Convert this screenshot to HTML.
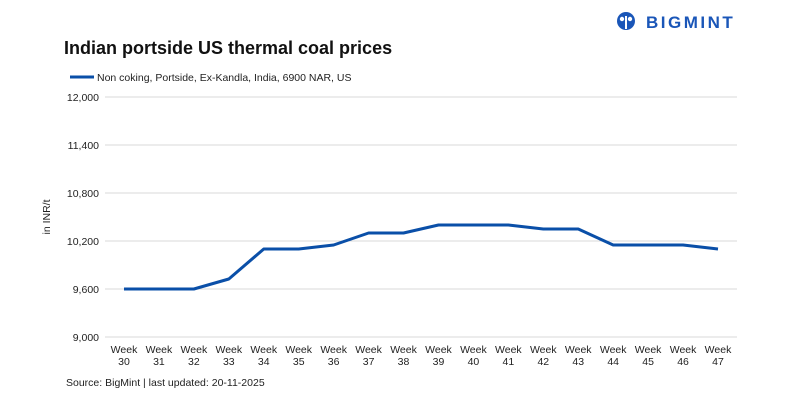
<!DOCTYPE html>
<html><head><meta charset="utf-8"><style>
body{margin:0;width:800px;height:400px;background:#fff;font-family:"Liberation Sans",sans-serif;overflow:hidden}
svg text{font-family:"Liberation Sans",sans-serif}
</style></head><body>
<svg id="chart" width="800" height="400">
<g>
<circle cx="626" cy="21" r="9" fill="#1a56b8"/>
<circle cx="622" cy="19" r="2.2" fill="#fff"/><circle cx="630" cy="19" r="2.2" fill="#fff"/>
<rect x="625" y="16" width="2" height="13" fill="#fff"/>
<text x="646" y="28" font-size="17" font-weight="bold" fill="#1a56b8" letter-spacing="2.5">BIGMINT</text>
</g>
<text x="64" y="54" font-size="18" font-weight="bold" fill="#111">Indian portside US thermal coal prices</text>
<g>
<line x1="70" y1="77" x2="94" y2="77" stroke="#0a4fa8" stroke-width="3"/>
<text x="97" y="81" font-size="10.5" fill="#222">Non coking, Portside, Ex-Kandla, India, 6900 NAR, US</text>
</g>
<text transform="translate(50,217) rotate(-90)" font-size="10.5" fill="#222" text-anchor="middle">in INR/t</text>
<g id="grid"></g><g id="yt"></g><g id="xt"></g><g id="series"></g>
<text x="66" y="386" font-size="10.5" fill="#222">Source: BigMint | last updated: 20-11-2025</text>
</svg>
<script>
const categories=[30,31,32,33,34,35,36,37,38,39,40,41,42,43,44,45,46,47];
const values=[9600,9600,9600,9725,10100,10100,10150,10300,10300,10400,10400,10400,10350,10350,10150,10150,10150,10100];
const yTicks=[9000,9600,10200,10800,11400,12000];
const yTickLabels=["9,000","9,600","10,200","10,800","11,400","12,000"];
const NS="http://www.w3.org/2000/svg";
const yMin=9000,yMax=12000,plotTop=97,plotBot=337;
function y(v){return plotBot-(v-yMin)/(yMax-yMin)*(plotBot-plotTop);}
function x(i){return 124+i*(718-124)/(categories.length-1);}
function mk(t,a,p){const e=document.createElementNS(NS,t);for(const k in a)e.setAttribute(k,a[k]);document.getElementById(p).appendChild(e);return e;}
yTicks.forEach((v,i)=>{
 const l=mk('line',{x1:105,x2:737,y1:y(v),y2:y(v),stroke:'#d9d9d9','stroke-width':1},'grid');
 
 
 const t=mk('text',{x:99,y:y(v)+4,'font-size':10.5,fill:'#222','text-anchor':'end'},'yt');
 t.textContent=yTickLabels[i];
 
 
});
categories.forEach((c,i)=>{
 const t=mk('text',{x:x(i),y:353,'font-size':10.5,fill:'#222','text-anchor':'middle'},'xt');
 
 
 const a=document.createElementNS(NS,'tspan');a.setAttribute('x',x(i));a.textContent='Week';t.appendChild(a);
 const b=document.createElementNS(NS,'tspan');b.setAttribute('x',x(i));b.setAttribute('dy',12);b.textContent=c;t.appendChild(b);
});
const p=mk('polyline',{points:values.map((v,i)=>x(i)+','+y(v)).join(' '),fill:'none',stroke:'#0a4fa8','stroke-width':3,'stroke-linejoin':'round'},'series');


</script>
</body></html>
